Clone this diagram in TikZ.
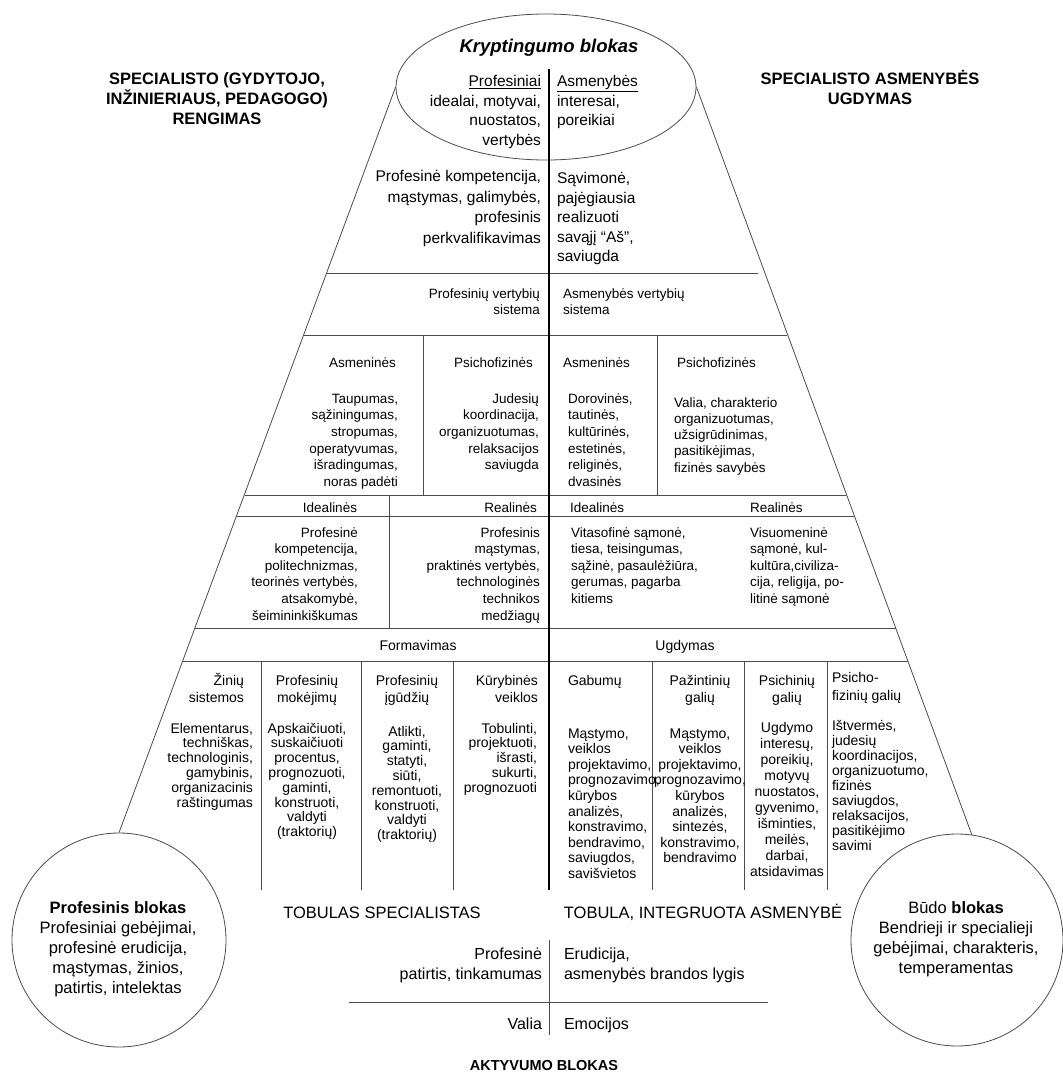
\documentclass[tikz,border=0pt]{standalone}
\usepackage{fontspec}
\setmainfont{Liberation Sans}
\usetikzlibrary{shapes.geometric}
\newcommand{\fsz}[2]{\fontsize{#1}{#2}\selectfont}
\newcommand{\tabR}[1]{\begin{tabular}[t]{@{}r@{}}#1\end{tabular}}
\newcommand{\tabL}[1]{\begin{tabular}[t]{@{}l@{}}#1\end{tabular}}
\newcommand{\tabC}[1]{\begin{tabular}[t]{@{}c@{}}#1\end{tabular}}
\begin{document}
\begin{tikzpicture}[x=1pt,y=-1pt,
  txt/.style={inner sep=0pt, outer sep=0pt},
  rule/.style={draw=black!70, line width=0.8pt},
  axis/.style={draw=black, line width=2pt},
  outline/.style={draw=black!70, line width=0.8pt, inner sep=0pt},
  bigT/.style={txt, font=\fsz{15.5}{19.5}},
  midT/.style={txt, font=\fsz{13.5}{16.7}},
  smlT/.style={txt, font=\fsz{14}{15}},
  hdrT/.style={txt, font=\fsz{14}{17}},
  botT/.style={txt, font=\fsz{16}{20}}]
\fill[white] (0,0) rectangle (1063,1074);
\useasboundingbox (0,0) rectangle (1063,1074);

% blocks
\node[outline, ellipse, minimum width=300pt, minimum height=146pt] (ell) at (546,87) {};
\node[outline, circle, minimum size=214pt] (lc) at (119,940) {};
\node[outline, circle, minimum size=212pt] (rc) at (957,940) {};
\draw[rule] (ell.west) -- (lc.north);
\draw[rule] (ell.east) -- (rc.82);

% horizontal rules
\draw[rule] (326.9,273) -- (758,273);
\draw[rule] (303.9,335) -- (787.4,335);
\draw[rule] (244.5,495) -- (846.4,495);
\draw[rule] (236.7,516) -- (854.2,516);
\draw[rule] (195.1,628) -- (895.5,628);
\draw[rule] (182.9,661) -- (907.6,661);
% central axis
\draw[axis] (549,69) -- (549,890);
% dividers
\draw[rule] (423,335) -- (423,495);
\draw[rule] (657,335) -- (657,495);
\draw[rule] (389,495) -- (389,628);
\foreach \xx in {261,361,453,652,744,827} \draw[rule] (\xx,661) -- (\xx,890);
% bottom cross
\draw[rule] (349,1002) -- (768,1002);
\draw[rule] (549,940) -- (549,1035);

% titles
\node[txt, font=\fsz{18.5}{22}\bfseries\itshape, anchor=base] (title) at (549,52.7) {Kryptingumo blokas};
\node[txt, font=\fsz{16.5}{20}\bfseries, anchor=base] (lhead) at (217,84) {\tabC{SPECIALISTO (GYDYTOJO,\\INŽINIERIAUS, PEDAGOGO)\\RENGIMAS}};
\node[txt, font=\fsz{16.5}{20}\bfseries, anchor=base] (rhead) at (870,84) {\tabC{SPECIALISTO ASMENYBĖS\\UGDYMAS}};

% ellipse content
\node[bigT, anchor=base east] (e1l) at (541,86.6) {\tabR{\underline{Profesiniai}\\idealai, motyvai,\\nuostatos,\\vertybės}};
\node[bigT, anchor=base west] (e1r) at (557,86.6) {\tabL{\underline{Asmenybės}\\interesai,\\poreikiai}};

% row 1
\node[txt, font=\fsz{15.5}{20.5}, anchor=base east] (r1l) at (541,181.6) {\tabR{Profesinė kompetencija,\\mąstymas, galimybės,\\profesinis\\perkvalifikavimas}};
\node[txt, font=\fsz{15.5}{19.5}, anchor=base west] (r1r) at (557,183.6) {\tabL{Sąvimonė,\\pajėgiausia\\realizuoti\\savąjį “Aš”,\\saviugda}};

% row 2
\node[midT, anchor=base east] (r2l) at (540,298) {\tabR{Profesinių vertybių\\sistema}};
\node[midT, anchor=base west] (r2r) at (563,298) {\tabL{Asmenybės vertybių\\sistema}};

% row 3
\node[midT, anchor=base east] (h3a) at (396,367) {Asmeninės};
\node[midT, anchor=base east] (h3b) at (533,367) {Psichofizinės};
\node[midT, anchor=base west] (h3c) at (563,367) {Asmeninės};
\node[midT, anchor=base west] (h3d) at (677,367) {Psichofizinės};
\node[midT, anchor=base east] (b3a) at (398,403) {\tabR{Taupumas,\\sąžiningumas,\\stropumas,\\operatyvumas,\\išradingumas,\\noras padėti}};
\node[midT, anchor=base east] (b3b) at (539,403) {\tabR{Judesių\\koordinacija,\\organizuotumas,\\relaksacijos\\saviugda}};
\node[midT, anchor=base west] (b3c) at (568,403) {\tabL{Dorovinės,\\tautinės,\\kultūrinės,\\estetinės,\\religinės,\\dvasinės}};
\node[txt, font=\fsz{13.5}{16.3}, anchor=base west] (b3d) at (674,407) {\tabL{Valia, charakterio\\organizuotumas,\\užsigrūdinimas,\\pasitikėjimas,\\fizinės savybės}};

% row 4
\node[midT, anchor=base] (h4a) at (330,512) {Idealinės};
\node[midT, anchor=base east] (h4b) at (537,512) {Realinės};
\node[midT, anchor=base west] (h4c) at (570,512) {Idealinės};
\node[midT, anchor=base west] (h4d) at (750,512) {Realinės};
\node[txt, font=\fsz{13.5}{16.6}, anchor=base east] (b4a) at (358,537) {\tabR{Profesinė\\kompetencija,\\politechnizmas,\\teorinės vertybės,\\atsakomybė,\\šeimininkiškumas}};
\node[txt, font=\fsz{13.5}{16.6}, anchor=base east] (b4b) at (540,537) {\tabR{Profesinis\\mąstymas,\\praktinės vertybės,\\technologinės\\technikos\\medžiagų}};
\node[txt, font=\fsz{13.5}{16.5}, anchor=base west] (b4c) at (571,537) {\tabL{Vitasofinė sąmonė,\\tiesa, teisingumas,\\sąžinė, pasaulėžiūra,\\gerumas, pagarba\\kitiems}};
\node[txt, font=\fsz{13.5}{16.5}, anchor=base west] (b4d) at (750,537) {\tabL{Visuomeninė\\sąmonė, kul-\\kultūra,civiliza-\\cija, religija, po-\\litinė sąmonė}};

% row 5
\node[txt, font=\fsz{14}{17}, anchor=base] (form) at (418,650) {Formavimas};
\node[txt, font=\fsz{14}{17}, anchor=base] (ugd) at (685,650) {Ugdymas};

% row 6 headers
\node[hdrT, anchor=base east] (c1h) at (244,685) {\tabR{Žinių\\sistemos}};
\node[hdrT, anchor=base] (c2h) at (307,685) {\tabC{Profesinių\\mokėjimų}};
\node[hdrT, anchor=base] (c3h) at (407,685) {\tabC{Profesinių\\įgūdžių}};
\node[hdrT, anchor=base east] (c4h) at (538,685) {\tabR{Kūrybinės\\veiklos}};
\node[hdrT, anchor=base west] (c5h) at (568,685) {Gabumų};
\node[hdrT, anchor=base] (c6h) at (700,685) {\tabC{Pažintinių\\galių}};
\node[hdrT, anchor=base] (c7h) at (787,685) {\tabC{Psichinių\\galių}};
\node[txt, font=\fsz{14}{18}, anchor=base west] (c8h) at (832,682) {\tabL{Psicho-\\fizinių galių}};

% row 6 bodies
\node[txt, font=\fsz{14}{14.8}, anchor=base east] (c1b) at (253,733) {\tabR{Elementarus,\\techniškas,\\technologinis,\\gamybinis,\\organizacinis\\raštingumas}};
\node[txt, font=\fsz{14}{14.8}, anchor=base] (c2b) at (307,733) {\tabC{Apskaičiuoti,\\suskaičiuoti\\procentus,\\prognozuoti,\\gaminti,\\konstruoti,\\valdyti\\(traktorių)}};
\node[txt, font=\fsz{14}{14.8}, anchor=base] (c3b) at (407,736) {\tabC{Atlikti,\\gaminti,\\statyti,\\siūti,\\remontuoti,\\konstruoti,\\valdyti\\(traktorių)}};
\node[txt, font=\fsz{14}{14.8}, anchor=base east] (c4b) at (537,733) {\tabR{Tobulinti,\\projektuoti,\\išrasti,\\sukurti,\\prognozuoti}};
\node[txt, font=\fsz{14}{15.6}, anchor=base west] (c5b) at (568,738) {\tabL{Mąstymo,\\veiklos\\projektavimo,\\prognozavimo,\\kūrybos\\analizės,\\konstravimo,\\bendravimo,\\saviugdos,\\savišvietos}};
\node[txt, font=\fsz{14}{15.6}, anchor=base] (c6b) at (700,738) {\tabC{Mąstymo,\\veiklos\\projektavimo,\\prognozavimo,\\kūrybos\\analizės,\\sintezės,\\konstravimo,\\bendravimo}};
\node[txt, font=\fsz{14}{16.1}, anchor=base] (c7b) at (787,732) {\tabC{Ugdymo\\interesų,\\poreikių,\\motyvų\\nuostatos,\\gyvenimo,\\išminties,\\meilės,\\darbai,\\atsidavimas}};
\node[txt, font=\fsz{14}{15}, anchor=base west] (c8b) at (832,730) {\tabL{Ištvermės,\\judesių\\koordinacijos,\\organizuotumo,\\fizinės\\saviugdos,\\relaksacijos,\\pasitikėjimo\\savimi}};

% bottom
\node[txt, font=\fsz{16.5}{20}, anchor=base] (tobs) at (382,918) {TOBULAS SPECIALISTAS};
\node[txt, font=\fsz{16.5}{20}, anchor=base] (toba) at (703,918) {TOBULA, INTEGRUOTA ASMENYBĖ};
\node[botT, anchor=base east] (pp) at (542,959) {\tabR{Profesinė\\patirtis, tinkamumas}};
\node[botT, anchor=base west] (er) at (564,959) {\tabL{Erudicija,\\asmenybės brandos lygis}};
\node[botT, anchor=base east] (val) at (542,1029) {Valia};
\node[botT, anchor=base west] (emo) at (564,1029) {Emocijos};
\node[txt, font=\fsz{14.5}{17}\bfseries, anchor=base] (akt) at (544,1070) {AKTYVUMO BLOKAS};

% circle texts
\node[txt, font=\fsz{16.5}{20}, anchor=base] (lct) at (118,913) {\tabC{\textbf{Profesinis blokas}\\Profesiniai gebėjimai,\\profesinė erudicija,\\mąstymas, žinios,\\patirtis, intelektas}};
\node[txt, font=\fsz{16.5}{20}, anchor=base] (rct) at (956,913) {\tabC{Būdo \textbf{blokas}\\Bendrieji ir specialieji\\gebėjimai, charakteris,\\temperamentas}};
\end{tikzpicture}
\end{document}
